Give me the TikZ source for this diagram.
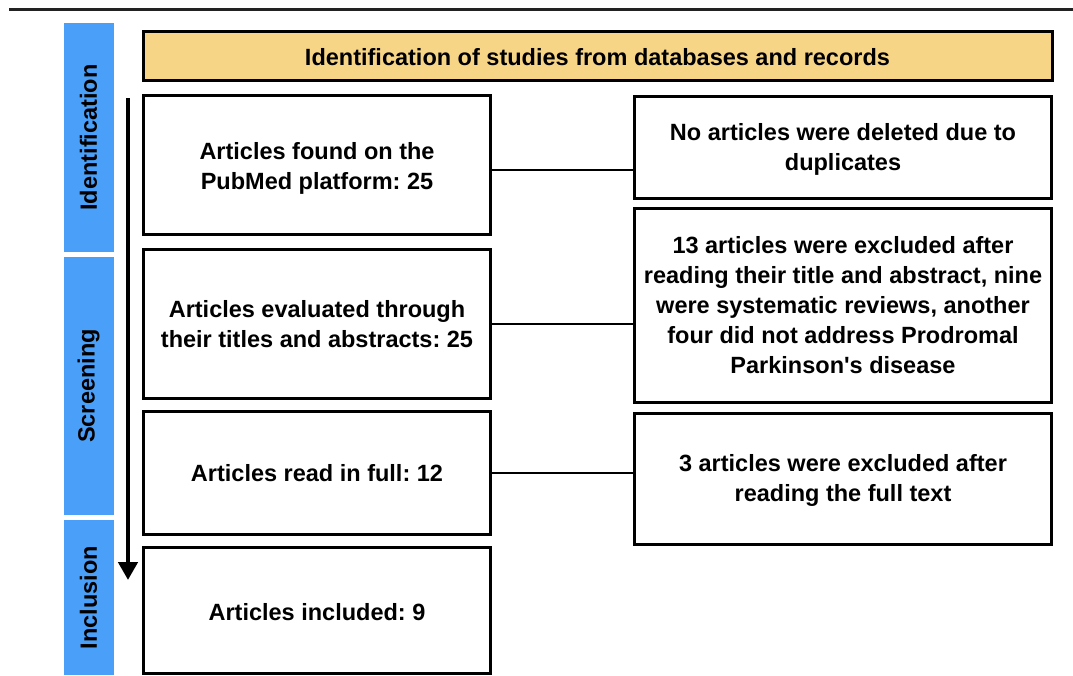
\documentclass[tikz,border=0pt]{standalone}
\usepackage{fontspec}
\setmainfont{Liberation Sans}[Ligatures=TeXOff]
\usetikzlibrary{arrows.meta}
\definecolor{barblue}{HTML}{4A9FF8}
\definecolor{headgold}{HTML}{F7D586}
\definecolor{rulegray}{HTML}{222222}
\frenchspacing
\newcommand{\lowerby}[2]{\raisebox{-#1}[\height][\depth]{#2}}
\tikzset{
  box/.style={draw=black, line width=3pt, rectangle, inner sep=0pt, outer sep=0pt, align=center,
    font=\fontsize{23.5}{30}\selectfont\bfseries},
  bar/.style={fill=barblue, draw=none, rectangle, inner sep=0pt, outer sep=0pt},
  barlabel/.style={rotate=90, font=\fontsize{23.5}{30}\selectfont\bfseries, inner sep=0pt},
  conn/.style={draw=black, line width=1.6pt},
  flow/.style={draw=black, line width=4.5pt, -{Triangle[width=19pt,length=18pt]}}
}
\begin{document}
\begin{tikzpicture}[x=1pt,y=-1pt]
\useasboundingbox (0,0) rectangle (1073,675);
% top rule
\coordinate (rl) at (9,9);
\coordinate (rr) at (1073,9);
\draw[rulegray, line width=3pt] (rl) -- (rr);
% side bars
\node[bar, minimum width=50pt, minimum height=229pt] (bid) at (88.5,137.5) {};
\node[bar, minimum width=50pt, minimum height=258pt] (bsc) at (88.5,386) {};
\node[bar, minimum width=50pt, minimum height=155pt] (bin) at (88.5,597.5) {};
\node[barlabel] (lid) at (bid.center) {Identification};
\node[barlabel] (lsc) at (bsc.center) {Screening};
\node[barlabel] (lin) at (bin.center) {Inclusion};
% header
\node[box, fill=headgold, minimum width=909pt, minimum height=49pt] (head) at (597.5,55.5)
  {\lowerby{2pt}{Identification of studies from databases and records}};
% left boxes
\node[box, minimum width=347pt, minimum height=139.5pt] (b1) at (317,164.75)
  {\lowerby{4pt}{\begin{tabular}{@{}c@{}}Articles found on the\\PubMed platform: 25\end{tabular}}};
\node[box, minimum width=347pt, minimum height=148.5pt] (b2) at (317,323.75)
  {Articles evaluated through\\their titles and abstracts: 25};
\node[box, minimum width=347pt, minimum height=122.5pt] (b3) at (317,472.75)
  {Articles read in full: 12};
\node[box, minimum width=347pt, minimum height=125.5pt] (b4) at (317,610.25)
  {\lowerby{2pt}{Articles included: 9}};
% right boxes
\node[box, minimum width=417pt, minimum height=102.5pt] (r1) at (843,147.25)
  {\lowerby{2pt}{\begin{tabular}{@{}c@{}}No articles were deleted due to\\duplicates\end{tabular}}};
\node[box, minimum width=417pt, minimum height=193.5pt] (r2) at (843,305.25)
  {13 articles were excluded after\\reading their title and abstract, nine\\were systematic reviews, another\\four did not address Prodromal\\Parkinson's disease};
\node[box, minimum width=417pt, minimum height=131pt] (r3) at (843,478.5)
  {\lowerby{2pt}{\begin{tabular}{@{}c@{}}3 articles were excluded after\\reading the full text\end{tabular}}};
% connectors
\draw[conn] ([yshift=-5pt]b1.east) -- ([yshift=-5pt]b1.east -| r1.west);
\draw[conn] (b2.east) -- (b2.east -| r2.west);
\draw[conn] (b3.east) -- (b3.east -| r3.west);
% flow arrow
\coordinate (as) at (128,98);
\coordinate (ae) at (128,580);
\draw[flow] (as) -- (ae);
\end{tikzpicture}
\end{document}
